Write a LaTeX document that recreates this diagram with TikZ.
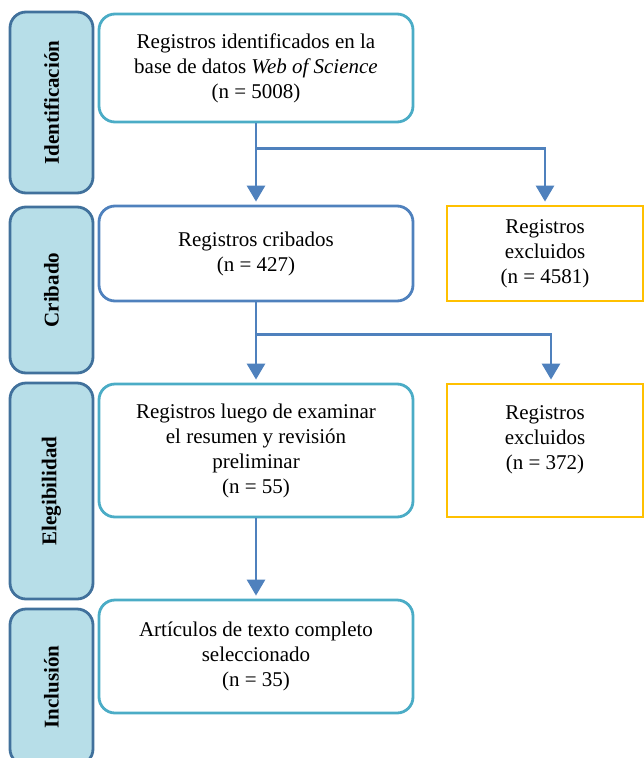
\documentclass[tikz,border=0pt]{standalone}
\usepackage{fontspec}
\setmainfont{Liberation Serif}
\usetikzlibrary{arrows.meta,calc}
\definecolor{stagefill}{HTML}{B7DEE8}
\definecolor{stageline}{HTML}{41719C}
\definecolor{tealline}{HTML}{4BACC6}
\definecolor{blueline}{HTML}{4F81BD}
\definecolor{goldline}{HTML}{FFC000}

\begin{document}
\begin{tikzpicture}[x=1pt,y=-1pt]
  \tikzstyle{every node}+=[font=\fontsize{21}{25}\selectfont, align=center, inner sep=0pt]
  \tikzstyle{stagebox}=[draw=stageline, fill=stagefill, line width=2.8pt, rounded corners=16pt, rotate=90, minimum height=83pt, font=\fontsize{21}{25}\selectfont\bfseries]
  \tikzstyle{mainbox}=[draw=tealline, line width=2.8pt, rounded corners=16pt, minimum width=314pt]
  \tikzstyle{exclbox}=[draw=goldline, line width=2.8pt, minimum width=196pt]
  \tikzstyle{flow}=[draw=blueline, line width=2.8pt, -{Triangle[length=16pt,width=18pt]}, shorten >=3pt]
  \clip (0,0) rectangle (644,758);
  % stages on the left
  \node[stagebox, minimum width=181pt] (ident) at (51.5,102.5) {Identificación};
  \node[stagebox, minimum width=166pt] (crib) at (51.5,290) {Cribado};
  \node[stagebox, minimum width=216pt] (eleg) at (51.5,491) {Elegibilidad};
  \node[stagebox, minimum width=156pt] (incl) at (51.5,687) {Inclusión};
  % records
  \node[mainbox, minimum height=108pt] (box1) at (256,68) {Registros identificados en la\\ base de datos \textit{Web of Science}\\ (n = 5008)};
  \node[mainbox, draw=blueline, minimum height=95pt] (box2) at (256,253.5) {Registros cribados\\ (n = 427)};
  \node[mainbox, minimum height=133pt] (box3) at (256,450.5) {Registros luego de examinar\\ el resumen y revisión\\ preliminar\\ (n = 55)};
  \node[mainbox, minimum height=113pt] (box4) at (256,656.5) {Artículos de texto completo\\ seleccionado\\ (n = 35)};
  \node[exclbox, minimum height=95pt] (exc1) at (545,253.5) {Registros\\ excluidos\\ (n = 4581)};
  \node[exclbox, minimum height=133pt, text depth=25pt] (exc2) at (545,450.5) {Registros\\ excluidos\\ (n = 372)};
  % arrows
  \coordinate (split1) at ($(box1.south)+(0,25)$);
  \coordinate (split2) at ($(box2.south)+(0,32)$);
  \draw[flow] (box1.south) -- (box2.north);
  \draw[flow] (split1) -| (exc1.north);
  \draw[flow] (box2.south) -- (box3.north);
  \draw[flow] (split2) -| ([xshift=6pt]exc2.north);
  \draw[flow] (box3.south) -- (box4.north);
\end{tikzpicture}
\end{document}
